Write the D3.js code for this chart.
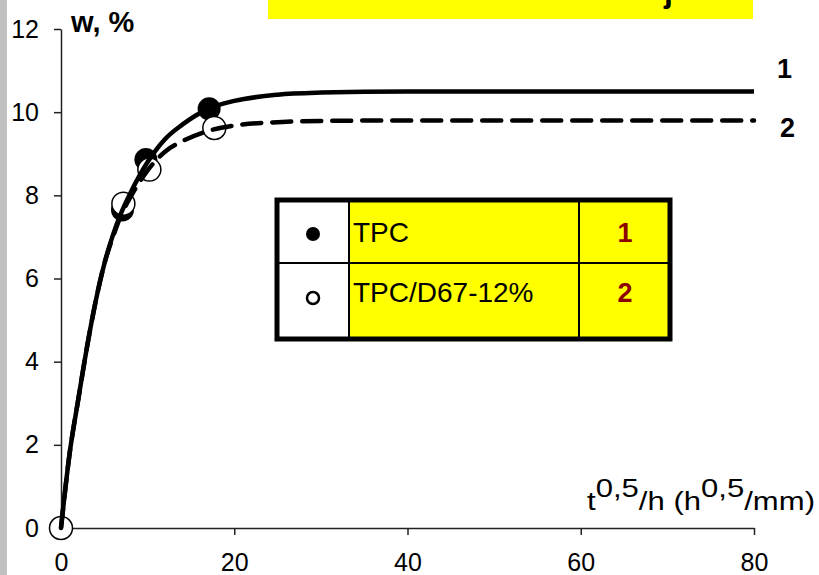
<!DOCTYPE html>
<html lang="en">
  <head>
    <meta charset="utf-8">
    <script src="https://d3js.org/d3.v7.min.js"></script>
    <style>
    body { margin: 0; background: #fff; }
    text { font-family: "Liberation Sans", Arial, sans-serif; }
    .axis path, .axis line { stroke: #222; stroke-width: 1.5px; }
    .axis text { font-size: 25px; fill: #000; }
    </style>
    <title>w vs t</title>
  </head>
  <body>
    <script>
// curve points (x = t^0,5/h, w in %)
var curveX  = [0, 1, 2, 3, 4, 5, 6, 7, 8, 10, 12, 14, 17, 20, 25, 30, 40, 50, 60, 70, 80];
var curve1W = [0, 1.8, 3.1, 4.35, 5.45, 6.35, 7.05, 7.6, 8.05, 8.8, 9.35, 9.7, 10.08, 10.27, 10.42, 10.47, 10.5, 10.5, 10.5, 10.5, 10.5];
var curve2W = [0, 1.8, 3.1, 4.35, 5.45, 6.35, 7.0, 7.55, 7.95, 8.6, 9.05, 9.3, 9.55, 9.68, 9.76, 9.79, 9.8, 9.8, 9.8, 9.8, 9.8];

// measured points
var tpcX = [7.1, 9.8, 17.1];
var tpcW = [7.65, 8.86, 10.08];
var d67X = [0, 7.2, 10.2, 17.7];
var d67W = [0, 7.8, 8.62, 9.62];

var xTicks = [0, 20, 40, 60, 80];
var yTicks = [0, 2, 4, 6, 8, 10, 12];

var legendNames = ["TPC", "TPC/D67-12%"];
var legendIds = ["1", "2"];

var w = 819, h = 575;
var svg = d3.select("body").append("svg")
            .attr("width", w)
            .attr("height", h);

// grey strip on the left and yellow title box
svg.append("rect").attr("x", 0).attr("y", 0).attr("width", 7).attr("height", h).attr("fill", "#c0c0c0");
svg.append("rect").attr("x", 268).attr("y", 0).attr("width", 485).attr("height", 19).attr("fill", "#ffff00");
svg.append("text").attr("x", 664).attr("y", 1.5)
   .attr("font-size", 32).attr("font-weight", "bold").text("j");

var x = d3.scaleLinear().domain([0, 80]).range([61, 754]);
var y = d3.scaleLinear().domain([0, 12]).range([528, 29]);

// axes
svg.append("g").attr("class", "axis")
   .attr("transform", "translate(0," + y(0) + ")")
   .call(d3.axisBottom(x).tickValues(xTicks).tickSize(7).tickPadding(18).tickSizeOuter(0));

svg.append("g").attr("class", "axis")
   .attr("transform", "translate(" + x(0) + ",0)")
   .call(d3.axisLeft(y).tickValues(yTicks).tickSize(7).tickPadding(15).tickSizeOuter(0));

svg.append("text").attr("x", 71).attr("y", 32)
   .attr("font-size", 29).attr("font-weight", "bold").text("w, %");

var xl = svg.append("text").attr("x", 587).attr("y", 510)
   .attr("font-size", 26)
   .attr("textLength", 228).attr("lengthAdjust", "spacingAndGlyphs");
xl.append("tspan").text("t");
xl.append("tspan").attr("dy", -13).text("0,5");
xl.append("tspan").attr("dy", 13).text("/h (h");
xl.append("tspan").attr("dy", -13).text("0,5");
xl.append("tspan").attr("dy", 13).text("/mm)");

// markers (under the lines)
svg.append("g").selectAll("circle")
   .data(tpcX.map(function(d, i) { return [d, tpcW[i]]; }))
   .enter().append("circle")
   .attr("cx", function(d) { return x(d[0]); })
   .attr("cy", function(d) { return y(d[1]); })
   .attr("r", 11.5)
   .attr("fill", "#000");

svg.append("g").selectAll("circle")
   .data(d67X.map(function(d, i) { return [d, d67W[i]]; }))
   .enter().append("circle")
   .attr("cx", function(d) { return x(d[0]); })
   .attr("cy", function(d) { return y(d[1]); })
   .attr("r", 11.5)
   .attr("fill", "#fff")
   .attr("stroke", "#000")
   .attr("stroke-width", 1.5);

var line = d3.line()
   .x(function(d) { return x(d[0]); })
   .y(function(d) { return y(d[1]); })
   .curve(d3.curveMonotoneX);

svg.append("path")
   .datum(curveX.map(function(d, i) { return [d, curve1W[i]]; }))
   .attr("d", line)
   .attr("fill", "none").attr("stroke", "#000").attr("stroke-width", 4.5);

svg.append("path")
   .datum(curveX.map(function(d, i) { return [d, curve2W[i]]; }))
   .attr("d", line)
   .attr("fill", "none").attr("stroke", "#000").attr("stroke-width", 4.5)
   .attr("stroke-linecap", "round")
   .attr("stroke-dasharray", "19,11");

svg.append("text").attr("x", 777).attr("y", 78)
   .attr("font-size", 27).attr("font-weight", "bold").text(legendIds[0]);
svg.append("text").attr("x", 780).attr("y", 137)
   .attr("font-size", 27).attr("font-weight", "bold").text(legendIds[1]);

// legend table
var lg = svg.append("g");
var lx0 = 277, lx1 = 349, lx2 = 579, lx3 = 670;
var ly0 = 200, ly1 = 263, ly2 = 339;
lg.append("rect").attr("x", lx0).attr("y", ly0).attr("width", lx1 - lx0).attr("height", ly2 - ly0).attr("fill", "#fff");
lg.append("rect").attr("x", lx1).attr("y", ly0).attr("width", lx3 - lx1).attr("height", ly2 - ly0).attr("fill", "#ffff00");
lg.append("line").attr("x1", lx1).attr("x2", lx1).attr("y1", ly0).attr("y2", ly2).attr("stroke", "#000").attr("stroke-width", 2);
lg.append("line").attr("x1", lx2).attr("x2", lx2).attr("y1", ly0).attr("y2", ly2).attr("stroke", "#000").attr("stroke-width", 2);
lg.append("line").attr("x1", lx0).attr("x2", lx3).attr("y1", ly1).attr("y2", ly1).attr("stroke", "#000").attr("stroke-width", 2);
lg.append("rect").attr("x", lx0).attr("y", ly0).attr("width", lx3 - lx0).attr("height", ly2 - ly0)
  .attr("fill", "none").attr("stroke", "#000").attr("stroke-width", 5);

var rowsY = [242, 302];
var dotY = [234, 298];
legendNames.forEach(function(name, i) {
  lg.append("circle").attr("cx", 313).attr("cy", dotY[i]).attr("r", i === 0 ? 7 : 6)
    .attr("fill", i === 0 ? "#000" : "#fff")
    .attr("stroke", "#000").attr("stroke-width", i === 0 ? 0 : 2.5);
  lg.append("text").attr("x", 353).attr("y", rowsY[i])
    .attr("font-size", 28).text(name);
  lg.append("text").attr("x", 625).attr("y", rowsY[i])
    .attr("text-anchor", "middle")
    .attr("font-size", 27).attr("font-weight", "bold").attr("fill", "#8b0000")
    .text(legendIds[i]);
});
    </script>
  </body>
</html>
